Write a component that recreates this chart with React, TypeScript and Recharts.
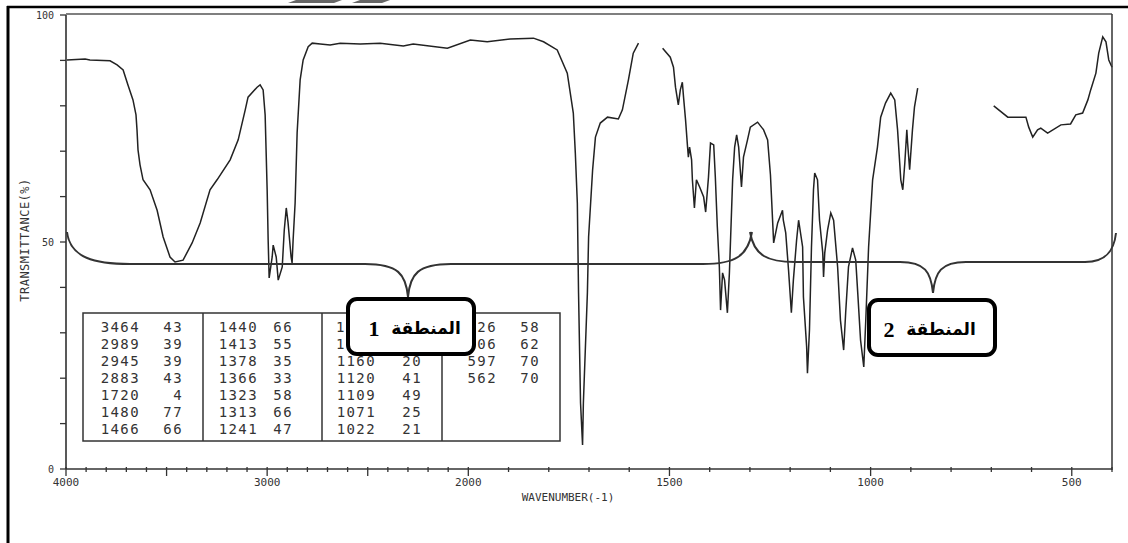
import { LineChart, Line, XAxis, YAxis } from 'recharts';

// IR spectrum: wavenumber (cm-1) and transmittance (%)
const midIrWn = [
  3995, 3905, 3881, 3781, 3746, 3716, 3692, 3667, 3652, 3647, 3642, 3632, 3617, 3582, 3547, 3517,
  3483, 3458, 3418, 3373, 3333, 3284, 3249, 3184, 3144, 3109, 3095, 3050, 3035, 3020, 3010, 3000,
  2995, 2990, 2975, 2970, 2955, 2945, 2925, 2915, 2905, 2896, 2881, 2876, 2871, 2861, 2851, 2836,
  2821, 2796, 2776, 2736, 2687, 2637, 2537, 2438, 2323, 2274, 2104, 1995, 1953, 1896, 1838, 1813,
  1779, 1754, 1739, 1734, 1729, 1726, 1721, 1716, 1714, 1704, 1701, 1691, 1684, 1672, 1654, 1627,
  1617, 1602, 1590, 1577,
];
const midIrT = [
  90.1, 90.3, 90.1, 89.9, 89.0, 87.9, 84.6, 81.3, 78.0, 74.7, 70.3, 67.0, 63.7, 61.5, 57.0, 51.1,
  46.7, 45.6, 46.0, 49.8, 54.2, 61.5, 63.7, 68.1, 72.5, 79.1, 81.9, 84.1, 84.6, 83.5, 78.0, 61.5,
  50.4, 42.1, 46.7, 49.3, 46.7, 41.6, 44.5, 52.6, 57.5, 54.2, 46.7, 45.4, 50.4, 58.6, 74.0, 85.7,
  90.1, 93.0, 93.8, 93.6, 93.4, 93.8, 93.6, 93.8, 93.2, 93.6, 92.7, 94.5, 94.1, 94.7, 94.9, 94.1,
  92.3, 87.2, 78.4, 69.6, 58.6, 38.8, 14.5, 5.3, 14.5, 38.8, 51.1, 65.9, 73.1, 76.2, 77.5, 77.1,
  79.1, 85.7, 91.6, 93.8,
];

const fingerWn = [
  1517, 1498, 1490, 1485, 1478, 1473, 1468, 1465, 1460, 1455, 1453, 1450, 1445, 1443, 1438, 1433,
  1425, 1415, 1410, 1403, 1398, 1390, 1386, 1381, 1376, 1373, 1368, 1363, 1356, 1351, 1343, 1338,
  1333, 1328, 1321, 1316, 1306, 1299, 1281, 1266, 1256, 1249, 1241, 1231, 1219, 1217, 1211, 1204,
  1197, 1192, 1184, 1179, 1169, 1167, 1159, 1157, 1152, 1147, 1142, 1139, 1132, 1127, 1119, 1117,
  1114, 1107, 1099, 1092, 1082, 1075, 1067, 1062, 1055, 1045, 1037, 1032, 1025, 1017, 1012, 1005,
  995, 983, 975, 963, 950, 940, 933, 925, 920, 915, 910, 908, 903, 896, 891, 883,
];
const fingerT = [
  92.7, 90.7, 88.5, 84.1, 80.2, 83.5, 85.2, 81.9, 76.9, 70.9, 68.7, 70.9, 68.1, 63.7, 57.5, 63.7,
  62.1, 59.9, 56.6, 64.3, 71.8, 71.4, 64.3, 53.3, 44.5, 35.0, 43.2, 41.6, 34.4, 43.2, 63.7, 70.9,
  73.6, 70.9, 62.1, 68.7, 72.5, 75.3, 76.4, 74.7, 72.5, 64.8, 49.8, 54.2, 57.0, 54.8, 52.0, 43.8,
  34.4, 41.6, 50.4, 54.8, 48.9, 37.9, 26.9, 21.1, 30.6, 48.9, 61.5, 65.2, 63.7, 54.8, 47.6, 42.3,
  47.6, 52.6, 56.4, 54.8, 44.5, 32.8, 26.2, 34.4, 44.5, 48.7, 46.0, 38.8, 28.4, 22.5, 32.8, 48.9,
  63.7, 70.9, 77.5, 80.6, 82.8, 81.3, 74.7, 63.7, 61.5, 67.4, 74.7, 71.8, 65.9, 74.7, 79.7, 83.9,
];

const farIrWn = [694, 659, 614, 607, 597, 585, 577, 560, 527, 503, 490, 473, 460, 453, 440, 433, 423, 415, 408, 400];
const farIrT = [80.0, 77.5, 77.5, 75.3, 73.1, 74.7, 75.1, 74.0, 75.8, 76.0, 78.0, 78.4, 81.3, 83.5, 87.2, 91.6, 95.2, 94.1, 90.1, 88.5];

// gaps in the trace (pen lifted)
const gapWn = [1560, 800];

// peak table printed on the chart; cells partly hidden under the first label keep only what shows
const peakWn = [
  '3464', '2989', '2945', '2883', '1720', '1480', '1466',
  '1440', '1413', '1378', '1366', '1323', '1313', '1241',
  '1', '1', '1160', '1120', '1109', '1071', '1022',
  '26', '06', '597', '562',
];
const peakT = [
  '43', '39', '39', '43', '4', '77', '66',
  '66', '55', '35', '33', '58', '66', '47',
  '', '', '20', '41', '49', '25', '21',
  '58', '62', '70', '70',
];

const xTickWn = [
  4000, 3900, 3800, 3700, 3600, 3500, 3400, 3300, 3200, 3100, 3000, 2900, 2800, 2700, 2600, 2500,
  2400, 2300, 2200, 2100, 2000, 1900, 1800, 1700, 1600, 1500, 1400, 1300, 1200, 1100, 1000, 900,
  800, 700, 600, 500, 400,
];
const xLabelWn = [4000, 3000, 2000, 1500, 1000, 500];
const yTicks = [0, 10, 20, 30, 40, 50, 60, 70, 80, 90, 100];
const yLabels = [0, 50, 100];

// the instrument doubles the scale below 2000 cm-1
const toPos = (w: number) => (w >= 2000 ? (4000 - w) / 1000 : 2 + (2000 - w) / 500);
const fromPos = (p: number) => Math.round(p <= 2 ? 4000 - p * 1000 : 2000 - (p - 2) * 500);

const data = [
  ...midIrWn.map((w, i) => ({ pos: toPos(w), t: midIrT[i] as number | null })),
  { pos: toPos(gapWn[0]), t: null },
  ...fingerWn.map((w, i) => ({ pos: toPos(w), t: fingerT[i] as number | null })),
  { pos: toPos(gapWn[1]), t: null },
  ...farIrWn.map((w, i) => ({ pos: toPos(w), t: farIrT[i] as number | null })),
];

const mono = "'DejaVu Sans Mono', monospace";

function XTick(props: any) {
  const { x, y, payload } = props;
  const wn = fromPos(payload.value);
  const len = wn % 500 === 0 ? 7 : 3;
  return (
    <g>
      <line x1={x} x2={x} y1={y - 2} y2={y + len} stroke="#333" strokeWidth={1.3} />
      {xLabelWn.includes(wn) && (
        <text x={x} y={y + 17} textAnchor="middle" fontFamily={mono} fontSize={11} fill="#333">
          {wn}
        </text>
      )}
    </g>
  );
}

function YTick(props: any) {
  const { x, y, payload } = props;
  return (
    <g>
      <line x1={x - 6} x2={x} y1={y} y2={y} stroke="#333" strokeWidth={1.3} />
      {yLabels.includes(payload.value) && (
        <text x={x - 12} y={y + 4} textAnchor="end" fontFamily={mono} fontSize={10} fill="#333">
          {payload.value}
        </text>
      )}
    </g>
  );
}

const colNumRight = [140, 258, 376, 497];
const colValRight = [183, 293, 422, 540];

function PeakTable() {
  return (
    <g>
      <rect x={83} y={313} width={477} height={128} fill="white" stroke="#333" strokeWidth={1.5} />
      {[203, 322, 442].map((x) => (
        <line key={x} x1={x} x2={x} y1={313} y2={441} stroke="#333" strokeWidth={1.5} />
      ))}
      {peakWn.map((w, i) => {
        const col = Math.floor(i / 7);
        const row = i % 7;
        const y = 332 + row * 17;
        const partial = w.length === 1;
        return (
          <g key={i} fontFamily={mono} fontSize={14} fill="#333" letterSpacing={1.4}>
            <text x={partial ? 336 : colNumRight[col]} y={y} textAnchor={partial ? 'start' : 'end'}>
              {w}
            </text>
            {peakT[i] && (
              <text x={colValRight[col]} y={y} textAnchor="end">{peakT[i]}</text>
            )}
          </g>
        );
      })}
    </g>
  );
}

function Label({ x, y, num, cx }: { x: number; y: number; num: string; cx: number }) {
  return (
    <g>
      <rect x={x} y={y} width={126} height={55} rx={9} fill="white" stroke="#000" strokeWidth={4} />
      <text x={cx - 37} y={y + 37} textAnchor="middle" fontFamily="'Liberation Serif', serif" fontWeight="bold" fontSize={22} fill="#000">
        {num}
      </text>
      <text x={cx + 15} y={y + 35} textAnchor="middle" fontFamily="'DejaVu Sans', sans-serif" fontWeight="bold" fontSize={17} fill="#000">
        المنطقة
      </text>
    </g>
  );
}

export default function App() {
  return (
    <div style={{ position: 'absolute', left: 0, top: 0, width: 1128, height: 543, background: 'white' }}>
      <LineChart
        width={1128}
        height={543}
        data={data}
        margin={{ top: 15, right: 16, bottom: 44, left: 16 }}
        style={{ position: 'absolute', left: 0, top: 0 }}
      >
        <XAxis
          type="number"
          dataKey="pos"
          domain={[0, 5.2]}
          ticks={xTickWn.map(toPos)}
          interval={0}
          height={30}
          tickSize={0}
          tickMargin={0}
          tickLine={false}
          tick={XTick}
          axisLine={{ stroke: '#333', strokeWidth: 1.5 }}
        />
        <YAxis
          type="number"
          domain={[0, 100]}
          ticks={yTicks}
          interval={0}
          width={50}
          tickSize={0}
          tickMargin={0}
          tickLine={false}
          tick={YTick}
          axisLine={{ stroke: '#222', strokeWidth: 1.5 }}
        />
        <Line
          type="linear"
          dataKey="t"
          stroke="#222"
          strokeWidth={1.5}
          dot={false}
          connectNulls={false}
          isAnimationActive={false}
        />
      </LineChart>
      <svg width={1128} height={543} style={{ position: 'absolute', left: 0, top: 0, pointerEvents: 'none' }}>
        {/* page frame and logo remnants */}
        <polygon points="288,3 296,0 342,0 334,3" fill="#666" />
        <polygon points="352,3 360,0 390,0 382,3" fill="#666" />
        <line x1={7} x2={1128} y1={7} y2={7} stroke="#000" strokeWidth={2.5} />
        <line x1={8} x2={8} y1={6} y2={543} stroke="#000" strokeWidth={3} />
        {/* plot frame */}
        <line x1={66} x2={1112} y1={14} y2={14} stroke="#555" strokeWidth={1.5} />
        <line x1={1112} x2={1112} y1={14} y2={470} stroke="#333" strokeWidth={1.5} />
        <text x={568} y={501} textAnchor="middle" fontFamily={mono} fontSize={11} fill="#333">
          WAVENUMBER(-1)
        </text>
        <text
          x={29}
          y={240}
          transform="rotate(-90 29 240)"
          textAnchor="middle"
          fontFamily={mono}
          fontSize={12}
          letterSpacing={0.5}
          fill="#333"
        >
          TRANSMITTANCE(%)
        </text>
        <PeakTable />
        {/* region braces */}
        <path
          d="M67,232 C70,258 95,264 130,264 L365,264 C398,264 406,274 408,297 C410,274 418,264 451,264 L703,264 C735,264 748,256 752,232"
          fill="none"
          stroke="#333"
          strokeWidth={2}
        />
        <path
          d="M750,232 C754,256 768,262 795,262 L900,262 C925,262 931,272 933,293 C935,272 941,262 966,262 L1085,262 C1105,262 1114,252 1116,233"
          fill="none"
          stroke="#333"
          strokeWidth={2}
        />
        <Label x={348} y={299} num="1" cx={411} />
        <Label x={869} y={300} num="2" cx={926} />
      </svg>
    </div>
  );
}
